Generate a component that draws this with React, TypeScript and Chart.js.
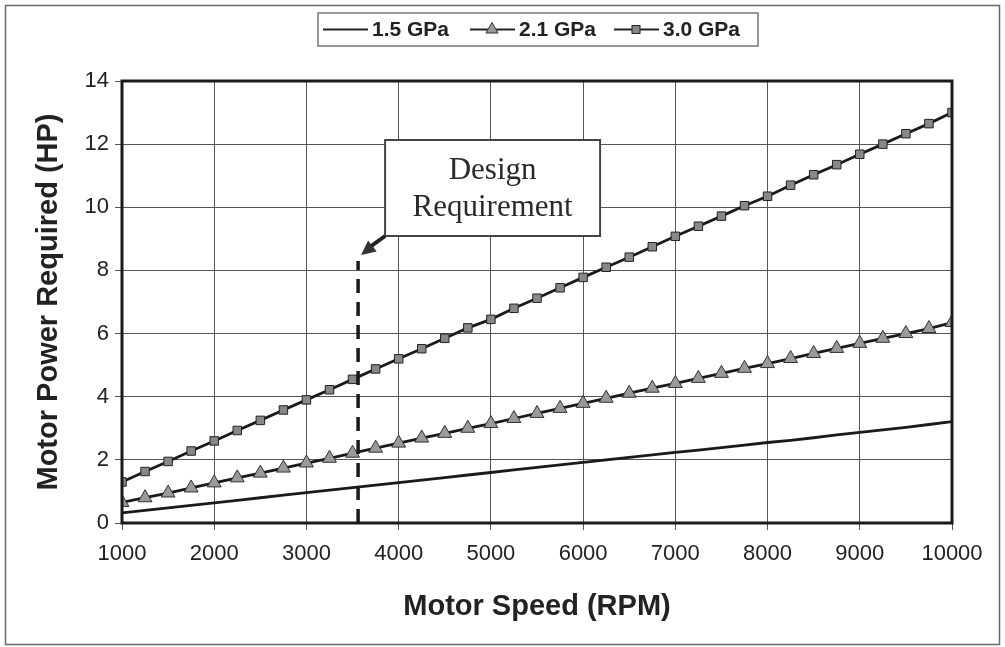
import React, { useEffect, useRef } from "react";
import { Chart, registerables } from "chart.js";

Chart.register(...registerables);

// ---- data ----
const rpm = [
  1000, 1250, 1500, 1750, 2000, 2250, 2500, 2750, 3000, 3250, 3500, 3750, 4000,
  4250, 4500, 4750, 5000, 5250, 5500, 5750, 6000, 6250, 6500, 6750, 7000, 7250,
  7500, 7750, 8000, 8250, 8500, 8750, 9000, 9250, 9500, 9750, 10000,
];
const power15 = [
  0.32, 0.4, 0.48, 0.56, 0.64, 0.72, 0.8, 0.88, 0.96, 1.04, 1.12, 1.2, 1.28,
  1.36, 1.44, 1.52, 1.6, 1.68, 1.76, 1.84, 1.92, 2.0, 2.08, 2.16, 2.24, 2.31,
  2.39, 2.47, 2.55, 2.62, 2.7, 2.79, 2.87, 2.95, 3.03, 3.12, 3.21,
];
const power21 = [
  0.65, 0.8, 0.95, 1.11, 1.27, 1.43, 1.58, 1.74, 1.9, 2.05, 2.21, 2.37, 2.53,
  2.69, 2.84, 3.0, 3.15, 3.31, 3.47, 3.63, 3.79, 3.95, 4.11, 4.27, 4.42, 4.58,
  4.74, 4.9, 5.05, 5.21, 5.37, 5.53, 5.69, 5.85, 6.0, 6.16, 6.35,
];
const power30 = [
  1.3, 1.63, 1.95, 2.28, 2.6, 2.93, 3.25, 3.58, 3.9, 4.22, 4.55, 4.88, 5.2,
  5.52, 5.85, 6.18, 6.45, 6.8, 7.12, 7.45, 7.78, 8.1, 8.42, 8.75, 9.08, 9.4,
  9.72, 10.05, 10.35, 10.7, 11.03, 11.35, 11.68, 12.0, 12.33, 12.65, 13.0,
];
const seriesLabels = ["1.5 GPa", "2.1 GPa", "3.0 GPa"];
const xTickValues = [1000, 2000, 3000, 4000, 5000, 6000, 7000, 8000, 9000, 10000];
const yTickValues = [0, 2, 4, 6, 8, 10, 12, 14];
const xTitle = "Motor Speed (RPM)";
const yTitle = "Motor Power Required (HP)";
const designRpm = 3560;
const designPower = 8.3;
const calloutLines = ["Design", "Requirement"];

const SANS = "'Liberation Sans', Arial, sans-serif";
const SERIF = "'Liberation Serif', 'Times New Roman', serif";

const toPoints = (ys: number[]) => rpm.map((x, i) => ({ x, y: ys[i] }));

function drawTriangle(ctx: CanvasRenderingContext2D, x: number, y: number, r: number) {
  ctx.beginPath();
  ctx.moveTo(x, y - r);
  ctx.lineTo(x + r * 0.87, y + r * 0.5);
  ctx.lineTo(x - r * 0.87, y + r * 0.5);
  ctx.closePath();
  ctx.fillStyle = "#9a9a9a";
  ctx.fill();
  ctx.strokeStyle = "#333";
  ctx.lineWidth = 1;
  ctx.stroke();
}

const decorPlugin = {
  id: "decor",
  beforeDraw(chart: any) {
    const ctx = chart.ctx as CanvasRenderingContext2D;
    ctx.save();
    ctx.fillStyle = "#ffffff";
    ctx.fillRect(0, 0, chart.width, chart.height);
    ctx.strokeStyle = "#6a6a6a";
    ctx.lineWidth = 1.5;
    ctx.strokeRect(5.5, 5.5, chart.width - 11, chart.height - 8);
    ctx.restore();
  },
  afterDatasetsDraw(chart: any) {
    const ctx = chart.ctx as CanvasRenderingContext2D;
    const { left, right, top, bottom } = chart.chartArea;
    const xs = chart.scales.x;
    const ys = chart.scales.y;
    ctx.save();

    // plot border
    ctx.strokeStyle = "#1a1a1a";
    ctx.lineWidth = 3;
    ctx.strokeRect(left, top, right - left, bottom - top);

    // design requirement dashed line
    const dx = xs.getPixelForValue(designRpm);
    const dy = ys.getPixelForValue(designPower);
    ctx.strokeStyle = "#1a1a1a";
    ctx.lineWidth = 3.5;
    ctx.setLineDash([14, 9]);
    ctx.beginPath();
    ctx.moveTo(dx, bottom);
    ctx.lineTo(dx, dy);
    ctx.stroke();
    ctx.setLineDash([]);

    // callout box
    const bx = dx + 27;
    const by = top + 59;
    const bw = 215;
    const bh = 96;
    ctx.fillStyle = "#ffffff";
    ctx.fillRect(bx, by, bw, bh);
    ctx.strokeStyle = "#444";
    ctx.lineWidth = 2;
    ctx.strokeRect(bx, by, bw, bh);
    ctx.fillStyle = "#2a2a2a";
    ctx.font = `31px ${SERIF}`;
    ctx.textAlign = "center";
    ctx.textBaseline = "middle";
    ctx.fillText(calloutLines[0], bx + bw / 2, by + 31);
    ctx.fillText(calloutLines[1], bx + bw / 2, by + 68);

    // arrow from box corner to line top
    const tipX = dx + 3;
    const tipY = dy - 6;
    ctx.strokeStyle = "#222";
    ctx.lineWidth = 4;
    ctx.beginPath();
    ctx.moveTo(bx, by + bh);
    ctx.lineTo(tipX + 9, tipY - 8);
    ctx.stroke();
    const ang = Math.atan2(tipY - (by + bh), tipX - bx);
    ctx.fillStyle = "#333";
    ctx.beginPath();
    ctx.moveTo(tipX, tipY);
    ctx.lineTo(tipX - 16 * Math.cos(ang - 0.45), tipY - 16 * Math.sin(ang - 0.45));
    ctx.lineTo(tipX - 16 * Math.cos(ang + 0.45), tipY - 16 * Math.sin(ang + 0.45));
    ctx.closePath();
    ctx.fill();

    // legend
    const lx = 318;
    const ly = 13;
    ctx.strokeStyle = "#777";
    ctx.lineWidth = 1.5;
    ctx.strokeRect(lx, ly, 440, 33);
    const cy = ly + 16.5;
    const itemX = [323, 470, 614];
    ctx.font = `bold 21px ${SANS}`;
    ctx.textAlign = "left";
    ctx.textBaseline = "middle";
    itemX.forEach((ix, i) => {
      ctx.strokeStyle = "#222";
      ctx.lineWidth = 2;
      ctx.beginPath();
      ctx.moveTo(ix, cy);
      ctx.lineTo(ix + 45, cy);
      ctx.stroke();
      if (i === 1) drawTriangle(ctx, ix + 22, cy, 7);
      if (i === 2) {
        ctx.fillStyle = "#888";
        ctx.fillRect(ix + 18, cy - 4, 8, 8);
        ctx.strokeStyle = "#222";
        ctx.lineWidth = 1;
        ctx.strokeRect(ix + 18, cy - 4, 8, 8);
      }
      ctx.fillStyle = "#222";
      ctx.fillText(seriesLabels[i], ix + 49, cy + 1);
    });

    ctx.restore();
  },
};

export default function App() {
  const ref = useRef<HTMLCanvasElement | null>(null);

  useEffect(() => {
    document.body.style.margin = "0";
    if (!ref.current) return;
    const chart = new Chart(ref.current, {
      type: "line",
      data: {
        datasets: [
          {
            label: seriesLabels[0],
            data: toPoints(power15),
            borderColor: "#1a1a1a",
            borderWidth: 2.8,
            pointRadius: 0,
          },
          {
            label: seriesLabels[1],
            data: toPoints(power21),
            borderColor: "#1a1a1a",
            borderWidth: 2.8,
            pointStyle: "triangle",
            pointRadius: 8,
            pointBackgroundColor: "#9a9a9a",
            pointBorderColor: "#333",
            pointBorderWidth: 1,
          },
          {
            label: seriesLabels[2],
            data: toPoints(power30),
            borderColor: "#1a1a1a",
            borderWidth: 2.8,
            pointStyle: "rect",
            pointRadius: 6,
            pointBackgroundColor: "#888",
            pointBorderColor: "#222",
            pointBorderWidth: 1,
          },
        ],
      },
      options: {
        responsive: false,
        animation: false,
        layout: { padding: { left: 0, right: 53, top: 81, bottom: 0 } },
        plugins: { legend: { display: false }, tooltip: { enabled: false } },
        scales: {
          x: {
            type: "linear",
            min: 1000,
            max: 10000,
            afterBuildTicks: (s: any) => {
              s.ticks = xTickValues.map((v) => ({ value: v }));
            },
            afterFit: (s: any) => {
              s.height = 124;
            },
            ticks: {
              color: "#222",
              font: { family: SANS, size: 22 },
              padding: 11,
              maxRotation: 0,
              callback: (v: any) => String(v),
            },
            grid: { color: "#555", lineWidth: 1, tickLength: 7 },
            border: { display: false },
            title: {
              display: true,
              text: xTitle,
              color: "#222",
              font: { family: SANS, size: 29, weight: "bold" },
              padding: { top: 0, bottom: 23 },
            },
          },
          y: {
            type: "linear",
            min: 0,
            max: 14,
            afterBuildTicks: (s: any) => {
              s.ticks = yTickValues.map((v) => ({ value: v }));
            },
            afterFit: (s: any) => {
              s.width = 122;
            },
            ticks: {
              color: "#222",
              font: { family: SANS, size: 22 },
              padding: 6,
              callback: (v: any) => String(v),
            },
            grid: { color: "#555", lineWidth: 1, tickLength: 7 },
            border: { display: false },
            title: {
              display: true,
              text: yTitle,
              color: "#222",
              font: { family: SANS, size: 29, weight: "bold" },
              padding: { top: 32, bottom: 0 },
            },
          },
        },
      },
      plugins: [decorPlugin],
    });
    return () => chart.destroy();
  }, []);

  return <canvas ref={ref} width={1005} height={647} style={{ display: "block" }} />;
}
